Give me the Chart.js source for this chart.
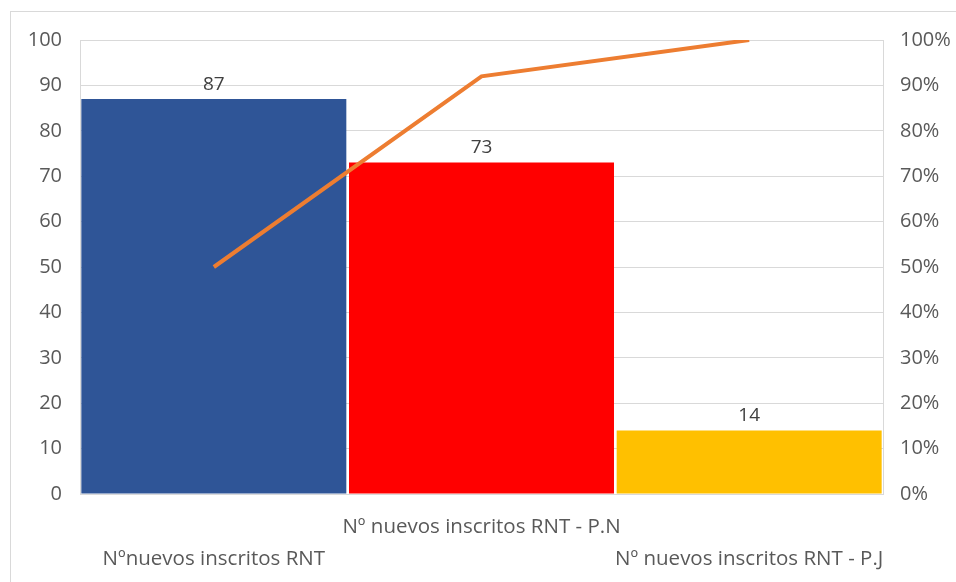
<!DOCTYPE html>
<html><head>
<meta charset="utf-8">
<script src="https://cdn.jsdelivr.net/npm/chart.js"></script>
<style>
  html, body { margin:0; padding:0; background:#fff; overflow:hidden }
  #frame { position:absolute; left:10px; top:11px; width:960px; height:590px;
           border-left:1px solid #d9d9d9; border-top:1px solid #d9d9d9 }
  #wrap { position:absolute; left:0; top:0; width:945px; height:570px }
</style>
</head><body>
<div id="frame"><div id="wrap"><canvas id="chart"></canvas></div></div>
<script>
// categories (Excel staggers the labels: up / down)
const categories = [
  ['', 'Nºnuevos inscritos RNT'],
  ['Nº nuevos inscritos RNT - P.N', ''],
  ['', 'Nº nuevos inscritos RNT - P.J']
];
const inscritos = [87, 73, 14];
const acumulado = [50, 92, 100]; // % acumulado
const barColors = ['#2F5597', '#FF0000', '#FFC000'];
const leftTicks = [0, 10, 20, 30, 40, 50, 60, 70, 80, 90, 100];

const FONT = "'Open Sans', sans-serif";
const GREY = '#595959';

// value labels above the bars
const barLabels = {
  id: 'barLabels',
  afterDatasetsDraw(chart) {
    const ctx = chart.ctx;
    const meta = chart.getDatasetMeta(1);
    ctx.save();
    ctx.font = '19px ' + FONT;
    ctx.fillStyle = '#404040';
    ctx.textAlign = 'center';
    ctx.textBaseline = 'bottom';
    meta.data.forEach((bar, i) => {
      ctx.fillText(inscritos[i], bar.x, bar.y - 5);
    });
    ctx.restore();
  }
};

new Chart(document.getElementById('chart'), {
  data: {
    labels: categories,
    datasets: [
      { type: 'line', data: acumulado, yAxisID: 'y1', borderColor: '#ED7D31',
        borderWidth: 4, pointRadius: 0, tension: 0, order: 0 },
      { type: 'bar', data: inscritos, yAxisID: 'y', backgroundColor: barColors,
        barPercentage: 0.99, categoryPercentage: 1, order: 1 }
    ]
  },
  options: {
    responsive: true,
    maintainAspectRatio: false,
    animation: false,
    layout: { padding: { top: 28, left: 0, right: 0, bottom: 0 } },
    plugins: { legend: { display: false }, tooltip: { enabled: false } },
    scales: {
      x: {
        grid: { display: false, drawTicks: false },
        border: { display: false },
        ticks: { color: GREY, font: { family: FONT, size: 20.5, lineHeight: 1.56 },
                 maxRotation: 0, autoSkip: false, padding: 17 },
        afterFit(s) { s.height = 88; }
      },
      y: {
        position: 'left', min: 0, max: 100,
        afterBuildTicks(s) { s.ticks = leftTicks.map(v => ({ value: v })); },
        grid: { color: '#d9d9d9', drawTicks: false },
        border: { display: true, color: '#d9d9d9' },
        ticks: { color: GREY, font: { family: FONT, size: 20, lineHeight: 1 }, padding: 18 },
        afterFit(s) { s.width = 69; }
      },
      y1: {
        position: 'right', min: 0, max: 100,
        ticks: { stepSize: 10, color: GREY, font: { family: FONT, size: 20, lineHeight: 1 }, padding: 17,
                 callback: v => v + '%' },
        grid: { display: false, drawTicks: false },
        border: { display: true, color: '#d9d9d9' },
        afterFit(s) { s.width = 73; }
      }
    }
  },
  plugins: [barLabels]
});
</script>
</body></html>
